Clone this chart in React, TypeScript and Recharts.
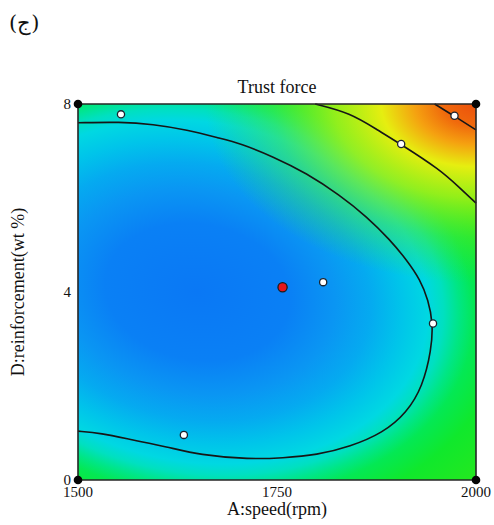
import React from "react";
import {
  ScatterChart,
  Scatter,
  XAxis,
  YAxis,
  ReferenceArea
} from "recharts";

// axis ranges and ticks
const speedTicks = [1500, 1750, 2000];
const reinforcementTicks = [0, 4, 8];

// factorial corners of the design space
const cornerPoints = [
  { speed: 1500, reinforcement: 0 },
  { speed: 1500, reinforcement: 8 },
  { speed: 2000, reinforcement: 0 },
  { speed: 2000, reinforcement: 8 }
];

// measured runs
const designPoints = [
  { speed: 1554, reinforcement: 7.78 },
  { speed: 1906, reinforcement: 7.15 },
  { speed: 1973, reinforcement: 7.75 },
  { speed: 1808, reinforcement: 4.21 },
  { speed: 1946, reinforcement: 3.33 },
  { speed: 1633, reinforcement: 0.96 }
];

// predicted minimum
const optimumPoint = [{ speed: 1757, reinforcement: 4.1 }];

// contour lines of the fitted surface
const innerContour = [
  { speed: 1500, reinforcement: 7.6 },
  { speed: 1553, reinforcement: 7.62 },
  { speed: 1594, reinforcement: 7.57 },
  { speed: 1637, reinforcement: 7.45 },
  { speed: 1678, reinforcement: 7.27 },
  { speed: 1704, reinforcement: 7.16 },
  { speed: 1745, reinforcement: 6.88 },
  { speed: 1787, reinforcement: 6.53 },
  { speed: 1829, reinforcement: 6.06 },
  { speed: 1863, reinforcement: 5.6 },
  { speed: 1892, reinforcement: 5.11 },
  { speed: 1913, reinforcement: 4.68 },
  { speed: 1930, reinforcement: 4.26 },
  { speed: 1940, reinforcement: 3.83 },
  { speed: 1946, reinforcement: 3.34 },
  { speed: 1944, reinforcement: 2.77 },
  { speed: 1933, reinforcement: 1.99 },
  { speed: 1913, reinforcement: 1.43 },
  { speed: 1883, reinforcement: 1.0 },
  { speed: 1842, reinforcement: 0.71 },
  { speed: 1800, reinforcement: 0.53 },
  { speed: 1757, reinforcement: 0.47 },
  { speed: 1716, reinforcement: 0.44 },
  { speed: 1653, reinforcement: 0.53 },
  { speed: 1611, reinforcement: 0.71 },
  { speed: 1569, reinforcement: 0.85 },
  { speed: 1528, reinforcement: 1.0 },
  { speed: 1500, reinforcement: 1.04 }
];

const middleContour = [
  { speed: 1798, reinforcement: 8.0 },
  { speed: 1842, reinforcement: 7.81 },
  { speed: 1876, reinforcement: 7.45 },
  { speed: 1906, reinforcement: 7.14 },
  { speed: 1955, reinforcement: 6.6 },
  { speed: 1978, reinforcement: 6.24 },
  { speed: 2000, reinforcement: 5.89 }
];

const cornerContour = [
  { speed: 1948, reinforcement: 8.0 },
  { speed: 1973, reinforcement: 7.74 },
  { speed: 2000, reinforcement: 7.45 }
];

const serif = "'Liberation Serif', 'Times New Roman', serif";

const noMarker = () => <g />;

const contourLine = { stroke: "#161616", strokeWidth: 1.6 };

export default function App() {
  return (
    <div
      style={{
        position: "absolute",
        left: 0,
        top: 0,
        width: 494,
        height: 525,
        background: "#fff",
        fontFamily: serif
      }}
    >
      <div
        style={{
          position: "absolute",
          left: 9,
          top: 11,
          fontSize: 21,
          color: "#111",
          fontFamily: "'DejaVu Serif', serif"
        }}
      >
        (ج)
      </div>
      <div
        style={{
          position: "absolute",
          left: 78,
          width: 398,
          top: 77,
          textAlign: "center",
          fontSize: 18,
          color: "#111"
        }}
      >
        Trust force
      </div>
      <ScatterChart
        width={494}
        height={525}
        margin={{ top: 104, right: 18, bottom: 1, left: 0 }}
      >
        <defs>
          {/* low region around the minimum, rising towards the edges */}
          <radialGradient
            id="surface"
            cx="0.3"
            cy="0.5"
            r="0.975"
            gradientTransform="translate(0.3 0.5) rotate(12) scale(1 0.77) translate(-0.3 -0.5)"
          >
            <stop offset="0" stopColor="#0a78f5" />
            <stop offset="0.24" stopColor="#0a80f5" />
            <stop offset="0.36" stopColor="#0a96f3" />
            <stop offset="0.45" stopColor="#05aaf0" />
            <stop offset="0.53" stopColor="#00c4ea" />
            <stop offset="0.6" stopColor="#00d8e2" />
            <stop offset="0.64" stopColor="#00e0c0" />
            <stop offset="0.68" stopColor="#00e686" />
            <stop offset="0.72" stopColor="#04e854" />
            <stop offset="0.8" stopColor="#10e82c" />
            <stop offset="1" stopColor="#30e818" />
          </radialGradient>
          {/* high speed + high reinforcement peak */}
          <radialGradient
            id="hotCorner"
            cx="1"
            cy="0"
            r="0.85"
            gradientTransform="translate(1 0) scale(1 0.7) translate(-1 0)"
          >
            <stop offset="0" stopColor="#ec500c" stopOpacity={1} />
            <stop offset="0.1" stopColor="#f06a0c" stopOpacity={1} />
            <stop offset="0.18" stopColor="#f5a010" stopOpacity={1} />
            <stop offset="0.28" stopColor="#e6ee10" stopOpacity={1} />
            <stop offset="0.42" stopColor="#aaf014" stopOpacity={0.85} />
            <stop offset="0.6" stopColor="#64ec18" stopOpacity={0.4} />
            <stop offset="0.8" stopColor="#40ea18" stopOpacity={0} />
          </radialGradient>
        </defs>
        <XAxis
          type="number"
          dataKey="speed"
          domain={[1500, 2000]}
          ticks={speedTicks}
          axisLine={false}
          tickLine={false}
          height={44}
          tickMargin={0}
          tick={{ fill: "#111", fontSize: 15, fontFamily: serif }}
          label={{
            value: "A:speed(rpm)",
            position: "insideBottom",
            offset: 9,
            fill: "#111",
            fontSize: 18,
            fontFamily: serif
          }}
        />
        <YAxis
          type="number"
          dataKey="reinforcement"
          domain={[0, 8]}
          ticks={reinforcementTicks}
          axisLine={false}
          tickLine={false}
          width={78}
          tickMargin={1}
          tick={{ fill: "#111", fontSize: 15, fontFamily: serif }}
          label={{
            value: "D:reinforcement(wt %)",
            angle: -90,
            position: "insideLeft",
            offset: 18,
            fill: "#111",
            fontSize: 18,
            fontFamily: serif,
            style: { textAnchor: "middle" }
          }}
        />
        <ReferenceArea
          x1={1500}
          x2={2000}
          y1={0}
          y2={8}
          fill="url(#surface)"
          fillOpacity={1}
          stroke="none"
          zIndex={-20}
        />
        <ReferenceArea
          x1={1500}
          x2={2000}
          y1={0}
          y2={8}
          fill="url(#hotCorner)"
          fillOpacity={1}
          stroke="none"
          zIndex={-19}
        />
        <Scatter
          data={innerContour}
          line={contourLine}
          lineJointType="basis"
          shape={noMarker}
          isAnimationActive={false}
        />
        <Scatter
          data={middleContour}
          line={contourLine}
          lineJointType="basis"
          shape={noMarker}
          isAnimationActive={false}
        />
        <Scatter
          data={cornerContour}
          line={contourLine}
          lineJointType="basis"
          shape={noMarker}
          isAnimationActive={false}
        />
        <ReferenceArea
          x1={1500}
          x2={2000}
          y1={0}
          y2={8}
          fill="none"
          stroke="#262626"
          strokeWidth={1.6}
          zIndex={700}
        />
        <Scatter
          data={designPoints}
          shape={(p: any) => (
            <circle cx={p.cx} cy={p.cy} r={3.6} fill="#fff" stroke="#1c2430" strokeWidth={1.3} />
          )}
          isAnimationActive={false}
          zIndex={800}
        />
        <Scatter
          data={optimumPoint}
          shape={(p: any) => (
            <circle cx={p.cx} cy={p.cy} r={4.6} fill="#e8161c" stroke="#1c1c1c" strokeWidth={1.3} />
          )}
          isAnimationActive={false}
          zIndex={800}
        />
        <Scatter
          data={cornerPoints}
          shape={(p: any) => <circle cx={p.cx} cy={p.cy} r={4.3} fill="#050505" />}
          isAnimationActive={false}
          zIndex={800}
        />
      </ScatterChart>
    </div>
  );
}
